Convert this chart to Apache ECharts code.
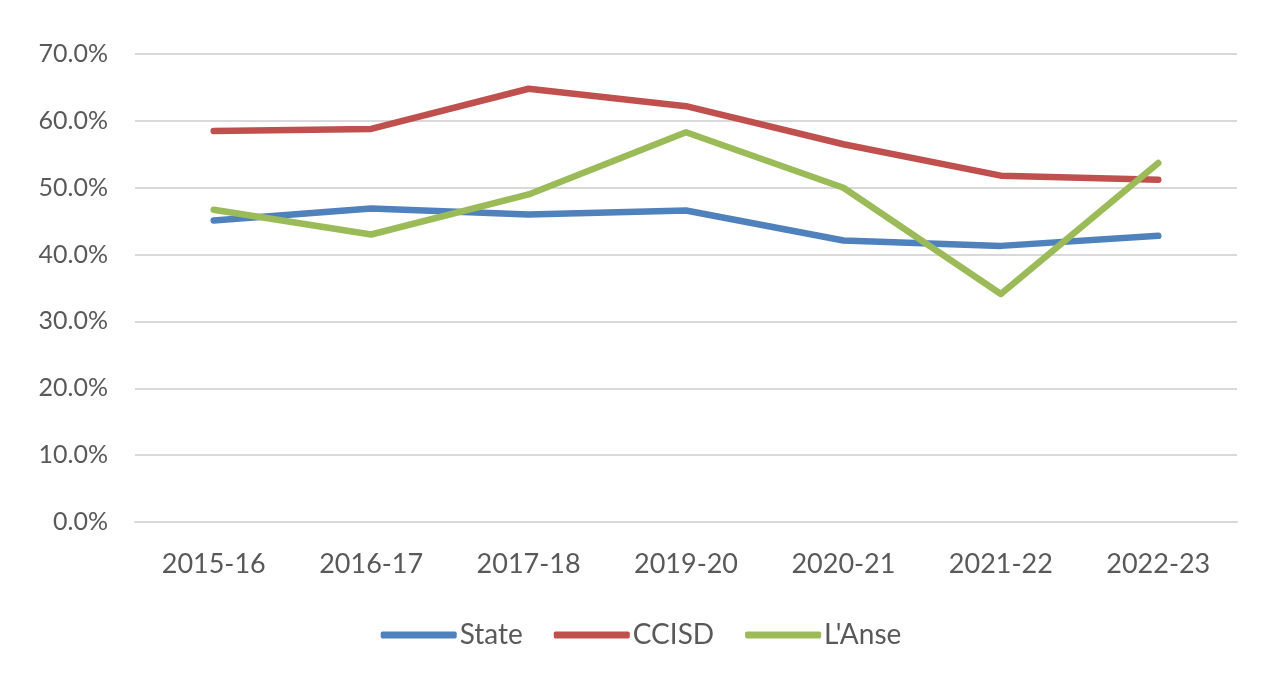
<!DOCTYPE html>
<html>
<head>
<meta charset="utf-8">
<script src="https://cdn.jsdelivr.net/npm/echarts@6/dist/echarts.min.js"></script>
<style>
html,body{margin:0;padding:0;background:#fff;}
#chart{width:1282px;height:684px;}
</style>
</head>
<body>
<div id="chart"></div>
<script>
const categories = ['2015-16','2016-17','2017-18','2019-20','2020-21','2021-22','2022-23'];
const stateValues = [45.1, 46.9, 46.0, 46.6, 42.1, 41.3, 42.8];
const ccisdValues = [58.5, 58.8, 64.8, 62.2, 56.5, 51.8, 51.2];
const lanseValues = [46.7, 43.0, 49.0, 58.3, 50.0, 34.1, 53.7];
const seriesNames = ['State', 'CCISD', "L'Anse"];
const colors = ['#4F81BD', '#C0504D', '#9BBB59'];

const chart = echarts.init(document.getElementById('chart'));
const font = 'Lato, "Open Sans", sans-serif';
function lineSeries(name, data, color) {
  return {
    name: name, type: 'line', data: data,
    symbol: 'none', smooth: false,
    lineStyle: { color: color, width: 6.5, cap: 'round', join: 'round' },
    itemStyle: { color: color }
  };
}
chart.setOption({
  animation: false,
  backgroundColor: '#fff',
  grid: { left: 135, right: 45, top: 54, bottom: 162, containLabel: false },
  xAxis: {
    type: 'category', data: categories, boundaryGap: true,
    axisLine: { show: true, lineStyle: { color: '#d9d9d9', width: 2 } },
    axisTick: { show: false },
    axisLabel: { color: '#595959', fontSize: 27, fontFamily: font, margin: 29 }
  },
  yAxis: {
    type: 'value', min: 0, max: 70, interval: 10,
    axisLine: { show: false }, axisTick: { show: false },
    splitLine: { lineStyle: { color: '#d9d9d9', width: 2 } },
    axisLabel: { color: '#595959', fontSize: 25, fontFamily: font, margin: 27,
      formatter: v => v.toFixed(1) + '%' }
  },
  legend: {
    bottom: 30, left: 'center',
    icon: 'roundRect', itemWidth: 76, itemHeight: 7, itemGap: 31,
    textStyle: { color: '#595959', fontSize: 28, fontFamily: font, padding: [0,0,0,-2] },
    data: seriesNames
  },
  series: [
    lineSeries(seriesNames[0], stateValues, colors[0]),
    lineSeries(seriesNames[1], ccisdValues, colors[1]),
    lineSeries(seriesNames[2], lanseValues, colors[2])
  ]
});
</script>
</body>
</html>
